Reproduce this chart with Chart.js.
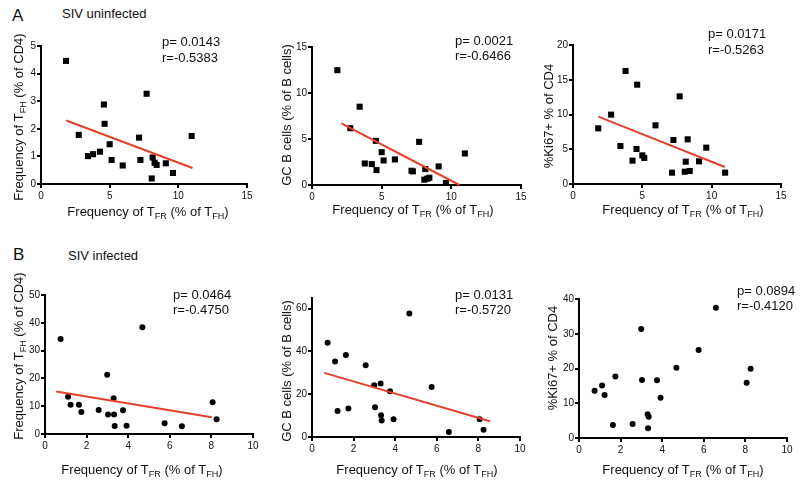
<!DOCTYPE html>
<html lang="en">
<head>
  <meta charset="UTF-8" />
  <title>TFR correlations</title>
  <script src="https://cdn.jsdelivr.net/npm/chart.js"></script>
  <style>
    body {
      margin: 0;
      background: #fff;
      font-family: 'Liberation Sans', Arial, sans-serif;
    }
    .wrap {
      position: relative;
      width: 800px;
      height: 484px;
      overflow: hidden;
    }
    canvas {
      position: absolute;
      left: 0;
      top: 0;
    }
    .tag {
      position: absolute;
      line-height: 1;
      color: #111;
      white-space: nowrap;
    }
  </style>
</head>
<body>
  <div class="wrap" id="wrap">
    <div class="tag" style="left:12px;top:6.5px;font-size:17px">A</div>
    <div class="tag" style="left:62px;top:7px;font-size:13px">SIV uninfected</div>
    <div class="tag" style="left:13px;top:245.5px;font-size:17px">B</div>
    <div class="tag" style="left:68px;top:249px;font-size:13px">SIV infected</div>
  </div>

  <script>
    // x values: frequency of TFR (% of TFH)
    const tfrUninfected = [1.82, 2.75, 3.42, 3.79, 4.29, 4.58, 4.63, 5.0, 5.14, 5.95, 7.14, 7.24, 7.69, 8.06, 8.13, 8.27, 8.42, 9.09, 9.61, 10.97]
    const tfrInfected = [0.75, 1.11, 1.23, 1.63, 1.75, 2.58, 2.99, 3.03, 3.30, 3.32, 3.35, 3.75, 3.92, 4.68, 5.75, 6.58, 8.06, 8.25]

    // y values, SIV uninfected
    const tfhUninfected = [4.46, 1.78, 1.01, 1.08, 1.17, 2.88, 2.18, 1.44, 0.87, 0.67, 1.68, 0.87, 3.27, 0.20, 0.96, 0.77, 0.69, 0.75, 0.40, 1.74]
    const gcbUninfected = [12.48, 6.17, 8.51, 2.34, 2.27, 4.80, 1.62, 3.57, 2.67, 2.78, 1.55, 1.48, 4.69, 0.58, 1.73, 0.69, 0.79, 2.02, 0.22, 3.43]
    const ki67Uninfected = [8.01, 9.98, 5.47, 16.26, 3.36, 5.04, 14.29, 4.12, 3.74, 8.44, 1.63, 6.33, 12.61, 1.77, 3.21, 6.43, 1.87, 3.26, 5.23, 1.63]

    // y values, SIV infected
    const tfhInfected = [34.2, 13.4, 10.5, 10.5, 7.95, 8.67, 21.3, 6.99, 12.9, 6.99, 2.89, 8.55, 3.01, 38.4, 3.86, 2.77, 11.4, 5.30]
    const gcbInfected = [44.1, 35.3, 12.2, 38.3, 13.3, 33.6, 24.2, 13.9, 25.0, 10.2, 7.66, 21.4, 8.28, 57.8, 23.4, 2.34, 8.28, 3.44]
    const ki67Infected = [13.6, 15.1, 12.4, 3.74, 17.7, 4.03, 31.4, 16.7, 6.81, 2.78, 6.14, 16.6, 11.6, 20.2, 25.3, 37.5, 15.9, 19.9]

    // regression line end points [x, y]
    const fitTfhUninf = [[1.84, 2.30], [11.03, 0.58]]
    const fitGcbUninf = [[2.11, 6.71], [10.58, 0.0]]
    const fitKi67Uninf = [[1.83, 9.69], [10.95, 2.45]]
    const fitTfhInf = [[0.54, 15.3], [8.02, 6.02]]
    const fitGcbInf = [[0.59, 30.0], [8.56, 7.34]]

    const statsTfhUninf = ['p= 0.0143', 'r=-0.5383']
    const statsGcbUninf = ['p= 0.0021', 'r=-0.6466']
    const statsKi67Uninf = ['p= 0.0171', 'r=-0.5263']
    const statsTfhInf = ['p= 0.0464', 'r=-0.4750']
    const statsGcbInf = ['p= 0.0131', 'r=-0.5720']
    const statsKi67Inf = ['p= 0.0894', 'r=-0.4120']

    const xTitle = [{ t: 'Frequency of T' }, { t: 'FR', sub: true }, { t: ' (% of T' }, { t: 'FH', sub: true }, { t: ')' }]
    const yTitleTfh = [{ t: 'Frequency of T' }, { t: 'FH', sub: true }, { t: ' (% of CD4)' }]
    const yTitleGcb = [{ t: 'GC B cells (% of B cells)' }]
    const yTitleKi67 = [{ t: '%Ki67+ % of CD4' }]

    const FONT = "'Liberation Sans', Arial, sans-serif"
    const RED = '#e5402e'
    const YW = 20, XH = 20

    // L/R/T/B = chart area in page pixels
    const panels = [
      { L: 41, R: 247, T: 46, B: 184, xMax: 15, xStep: 5, yMax: 5, yStep: 1, xs: tfrUninfected, ys: tfhUninfected, fit: fitTfhUninf,
        marker: 'rect', stats: statsTfhUninf, sx: 162, sy: 46, yTitle: yTitleTfh, ytx: 22.5, yty: 117, xtx: 148, xty: 216 },
      { L: 312, R: 521, T: 47, B: 185, xMax: 15, xStep: 5, yMax: 15, yStep: 5, xs: tfrUninfected, ys: gcbUninfected, fit: fitGcbUninf,
        marker: 'rect', stats: statsGcbUninf, sx: 455, sy: 44.5, yTitle: yTitleGcb, ytx: 290.5, yty: 115, xtx: 413, xty: 214 },
      { L: 573, R: 781, T: 45, B: 184, xMax: 15, xStep: 5, yMax: 20, yStep: 5, xs: tfrUninfected, ys: ki67Uninfected, fit: fitKi67Uninf,
        marker: 'rect', stats: statsKi67Uninf, sx: 708, sy: 38, yTitle: yTitleKi67, ytx: 552.5, yty: 116, xtx: 683, xty: 214 },
      { L: 45, R: 253, T: 295, B: 434, xMax: 10, xStep: 2, yMax: 50, yStep: 10, xs: tfrInfected, ys: tfhInfected, fit: fitTfhInf,
        marker: 'circle', stats: statsTfhInf, sx: 173, sy: 298.5, yTitle: yTitleTfh, ytx: 22.5, yty: 356, xtx: 142, xty: 473.5 },
      { L: 312, R: 520, T: 298, B: 437, xMax: 10, xStep: 2, yMax: 65, yStep: 20, xs: tfrInfected, ys: gcbInfected, fit: fitGcbInf,
        marker: 'circle', stats: statsGcbInf, sx: 455, sy: 298.5, yTitle: yTitleGcb, ytx: 291, yty: 371, xtx: 417, xty: 474 },
      { L: 579, R: 787, T: 299, B: 438, xMax: 10, xStep: 2, yMax: 40, yStep: 10, xs: tfrInfected, ys: ki67Infected, fit: null,
        marker: 'circle', stats: statsKi67Inf, sx: 737, sy: 294.5, yTitle: yTitleKi67, ytx: 557, yty: 358, xtx: 683, xty: 474 }
    ]

    function drawRich(ctx, parts, x, y) {
      let total = 0
      parts.forEach(p => {
        ctx.font = (p.sub ? '9px ' : '13px ') + FONT
        p.w = ctx.measureText(p.t).width
        total += p.w
      })
      let cx = x - total / 2
      parts.forEach(p => {
        ctx.font = (p.sub ? '9px ' : '13px ') + FONT
        ctx.fillText(p.t, cx, y + (p.sub ? 3 : 0))
        cx += p.w
      })
    }

    function textPlugin(p) {
      return {
        id: 'panelText',
        afterDraw(chart) {
          const ctx = chart.ctx
          ctx.save()
          ctx.fillStyle = '#111'
          ctx.textAlign = 'left'
          ctx.textBaseline = 'alphabetic'
          drawRich(ctx, xTitle, p.xtx, p.xty)
          ctx.save()
          ctx.translate(p.ytx, p.yty)
          ctx.rotate(-Math.PI / 2)
          drawRich(ctx, p.yTitle, 0, 0)
          ctx.restore()
          ctx.font = '13px ' + FONT
          p.stats.forEach((s, i) => ctx.fillText(s, p.sx, p.sy + i * 15.5))
          ctx.restore()
        }
      }
    }

    function axis(max, step, isX) {
      return {
        type: 'linear',
        min: 0,
        max: max,
        ticks: { stepSize: step, includeBounds: false, color: '#111', font: { size: 10, family: FONT }, padding: isX ? 2 : 1 },
        grid: { drawOnChartArea: false, drawTicks: true, tickLength: 4, color: '#000', lineWidth: 2 },
        border: { display: true, color: '#000', width: 2 },
        afterFit: s => { if (isX) s.height = XH; else s.width = YW }
      }
    }

    const wrap = document.getElementById('wrap')
    panels.forEach(p => {
      const cv = document.createElement('canvas')
      cv.width = 800
      cv.height = 484
      wrap.appendChild(cv)

      const datasets = [{
        data: p.xs.map((x, i) => ({ x: x, y: p.ys[i] })),
        pointStyle: p.marker,
        pointRadius: p.marker === 'rect' ? 4.3 : 3,
        backgroundColor: '#000',
        borderColor: '#000',
        pointBorderWidth: 0,
        showLine: false,
        clip: false,
        order: 1
      }]
      if (p.fit) {
        datasets.push({
          data: p.fit.map(f => ({ x: f[0], y: f[1] })),
          showLine: true,
          borderColor: RED,
          borderWidth: 2,
          pointRadius: 0,
          clip: false,
          order: 0
        })
      }

      new Chart(cv, {
        type: 'scatter',
        data: { datasets },
        options: {
          responsive: false,
          animation: false,
          layout: { padding: { left: p.L - YW, top: p.T, right: 800 - p.R, bottom: 484 - p.B - XH } },
          plugins: { legend: { display: false }, tooltip: { enabled: false } },
          scales: { x: axis(p.xMax, p.xStep, true), y: axis(p.yMax, p.yStep, false) }
        },
        plugins: [textPlugin(p)]
      })
    })
  </script>
</body>
</html>
